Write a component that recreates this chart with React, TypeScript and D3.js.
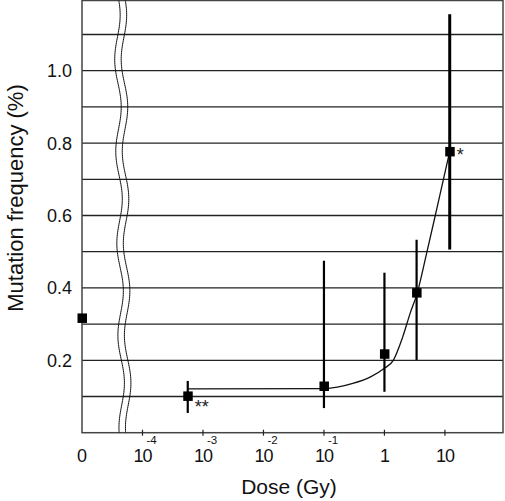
import React from "react";
import * as d3 from "d3";

// ---- data ----
const doses = [0, 0.00056, 0.1, 1, 3.4, 12];
const means = [0.317, 0.1016, 0.129, 0.218, 0.387, 0.777];
const lowers: (number | null)[] = [null, 0.0545, 0.068, 0.113, 0.201, 0.506];
const uppers: (number | null)[] = [null, 0.143, 0.475, 0.442, 0.533, 1.156];
const marks = ["", "**", "", "", "", "*"];

const fitDoses = [0.00056, 0.1, 0.3, 0.6, 1, 1.4, 2, 2.7, 3.4, 5, 7.3, 12];
const fitValues = [0.121, 0.122, 0.136, 0.155, 0.178, 0.2, 0.264, 0.333, 0.38, 0.497, 0.617, 0.777];

const xTickDoses = [1e-4, 1e-3, 1e-2, 1e-1, 1, 10];
const xTickBase = ["10", "10", "10", "10", "1", "10"];
const xTickExp = ["-4", "-3", "-2", "-1", "", ""];
const yTicks = [0.2, 0.4, 0.6, 0.8, 1.0];
const gridValues = [0.1, 0.2, 0.3, 0.4, 0.5, 0.6, 0.7, 0.8, 0.9, 1.0, 1.1];

const W = 505;
const H = 501;
const left = 82;
const right = 503;
const top = 0.5;
const bottom = 432.7;
const FONT = "'Liberation Sans', Arial, Helvetica, sans-serif";

export default function App() {
  const x = d3.scaleLog().domain([1e-5, Math.pow(10, 1.96)]).range([left, right]);
  const y = d3.scaleLinear().domain([0, 1.2]).range([bottom, -1.7]);
  const px = (d: number) => (d === 0 ? left : x(d));

  const fitLine = d3
    .line<number>()
    .x((_, i) => x(fitDoses[i]))
    .y((v) => y(v))
    .curve(d3.curveMonotoneX)(fitValues);

  // wavy axis break
  const wave = (offset: number) => {
    const pts: [number, number][] = [];
    for (let yy = top; yy <= bottom; yy += 2) {
      const cx = 117 + 5 * (yy / bottom) + 3 * Math.sin((yy / 92) * 2 * Math.PI + 0.6) + offset;
      pts.push([cx, yy]);
    }
    return d3.line().curve(d3.curveBasis)(pts);
  };

  return (
    <svg width={W} height={H} style={{ position: "absolute", left: 0, top: 0, background: "#fff" }}>
      <rect x={0} y={0} width={W} height={H} fill="#fff" />
      {/* gridlines */}
      {gridValues.map((g) => (
        <line key={g} x1={left} x2={right} y1={y(g)} y2={y(g)} stroke="#222" strokeWidth={1.3} />
      ))}
      {/* frame */}
      <rect x={left} y={top} width={right - left} height={bottom - top} fill="none" stroke="#444" strokeWidth={1.5} />
      {/* axis break */}
      <path d={wave(0) || ""} fill="none" stroke="#111" strokeWidth={1} />
      <path d={wave(6.5) || ""} fill="none" stroke="#111" strokeWidth={1} />
      {/* x ticks */}
      {xTickDoses.map((d, i) => (
        <g key={i}>
          <line x1={x(d)} x2={x(d)} y1={bottom - 3} y2={bottom + 3} stroke="#222" strokeWidth={1.2} />
          <text x={x(d)} y={462} textAnchor="middle" fontFamily={FONT} fontSize={18} fill="#111" letterSpacing={-1}>
            {xTickBase[i]}
          </text>
          {xTickExp[i] && (
            <text x={x(d) + 4} y={444} fontFamily={FONT} fontSize={11.5} fill="#111">
              {xTickExp[i]}
            </text>
          )}
        </g>
      ))}
      <text x={left} y={462} textAnchor="middle" fontFamily={FONT} fontSize={18} fill="#111">
        0
      </text>
      {/* y tick labels */}
      {yTicks.map((t) => (
        <text key={t} x={72} y={y(t) + 6.5} textAnchor="end" fontFamily={FONT} fontSize={18} fill="#111">
          {t.toFixed(1)}
        </text>
      ))}
      {/* axis titles */}
      <text x={289} y={494} textAnchor="middle" fontFamily={FONT} fontSize={21} fill="#111">
        Dose (Gy)
      </text>
      <text
        transform={`translate(23, 198) rotate(-90)`}
        textAnchor="middle"
        fontFamily={FONT}
        fontSize={22}
        fill="#111"
      >
        Mutation frequency (%)
      </text>
      {/* fit curve */}
      <path d={fitLine || ""} fill="none" stroke="#111" strokeWidth={1.3} />
      {/* error bars */}
      {doses.map((d, i) =>
        lowers[i] !== null && uppers[i] !== null ? (
          <line
            key={"e" + i}
            x1={px(d)}
            x2={px(d)}
            y1={y(uppers[i] as number)}
            y2={y(lowers[i] as number)}
            stroke="#000"
            strokeWidth={i === doses.length - 1 ? 3 : 2.2}
          />
        ) : null
      )}
      {/* markers */}
      {doses.map((d, i) => (
        <rect key={"m" + i} x={px(d) - 4.5} y={y(means[i]) - 4.5} width={9.5} height={9.5} fill="#000" />
      ))}
      {/* significance marks */}
      {doses.map((d, i) =>
        marks[i] ? (
          <text
            key={"s" + i}
            x={px(d) + 7}
            y={y(means[i]) + (marks[i] === "**" ? 17 : 10)}
            fontFamily={FONT}
            fontSize={18}
            fill="#222"
          >
            {marks[i]}
          </text>
        ) : null
      )}
    </svg>
  );
}
